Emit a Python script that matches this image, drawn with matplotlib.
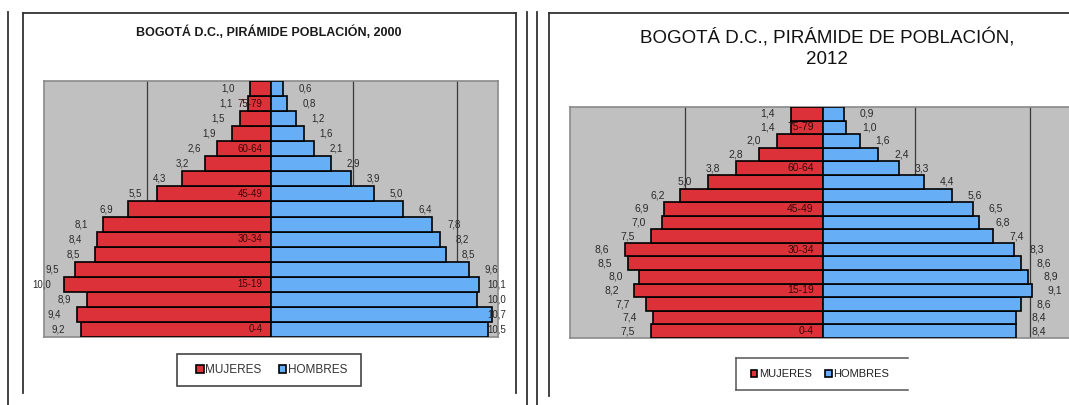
import matplotlib
matplotlib.use("Agg")
import matplotlib.pyplot as plt
from matplotlib.lines import Line2D
from matplotlib.patches import Patch, Rectangle

plt.rcParams["font.family"] = ["Liberation Sans", "DejaVu Sans"]

W, H = 1069, 405

# age groups from bottom (0-4) to top (80+)
ages = ["0-4", "5-9", "10-14", "15-19", "20-24", "25-29", "30-34", "35-39",
        "40-44", "45-49", "50-54", "55-59", "60-64", "65-69", "70-74",
        "75-79", "80+"]
shown_ages = ["0-4", "15-19", "30-34", "45-49", "60-64", "75-79"]

mujeres_2000 = [9.2, 9.4, 8.9, 10.0, 9.5, 8.5, 8.4, 8.1, 6.9, 5.5, 4.3, 3.2,
                2.6, 1.9, 1.5, 1.1, 1.0]
hombres_2000 = [10.5, 10.7, 10.0, 10.1, 9.6, 8.5, 8.2, 7.8, 6.4, 5.0, 3.9,
                2.9, 2.1, 1.6, 1.2, 0.8, 0.6]

mujeres_2012 = [7.5, 7.4, 7.7, 8.2, 8.0, 8.5, 8.6, 7.5, 7.0, 6.9, 6.2, 5.0,
                3.8, 2.8, 2.0, 1.4, 1.4]
hombres_2012 = [8.4, 8.4, 8.6, 9.1, 8.9, 8.6, 8.3, 7.4, 6.8, 6.5, 5.6, 4.4,
                3.3, 2.4, 1.6, 1.0, 0.9]

RED = "#DC3139"
BLUE = "#66AEF5"
GRAY = "#C0C0C0"


def fx(px):
    return px / W


def fy(py):
    return 1 - py / H


def fmt(v):
    return f"{v:.1f}".replace(".", ",")


def pyramid(ax, muj, hom, fs, off, cap):
    y = range(len(ages))
    ax.set_facecolor(GRAY)
    ax.barh(y, [-v for v in muj], height=1.0, color=RED, edgecolor="black",
            linewidth=1.2, zorder=3)
    ax.barh(y, hom, height=1.0, color=BLUE, edgecolor="black",
            linewidth=1.2, zorder=3)
    ax.set_xlim(-11, 11)
    ax.set_ylim(-0.5, len(ages) - 0.5)
    ax.set_xticks([-6, -1, 4, 9])
    ax.set_yticks([])
    ax.tick_params(axis="x", length=0, labelbottom=False)
    ax.grid(axis="x", color="#3a3a3a", linewidth=0.9, zorder=1)
    for s in ax.spines.values():
        s.set_color("#8a8a8a")
        s.set_linewidth(1.2)
    for i, (m, h) in enumerate(zip(muj, hom)):
        ax.text(-(m + off), i, fmt(m), ha="center", va="center",
                fontsize=fs, color="#2a2a2a", zorder=4)
        ax.text(min(h + off, cap), i, fmt(h), ha="center", va="center",
                fontsize=fs, color="#2a2a2a", zorder=4)
        if ages[i] in shown_ages:
            ax.text(-0.4, i, ages[i], ha="right", va="center", fontsize=fs,
                    color="#3a0808", zorder=4)


fig = plt.figure(figsize=(W / 100, H / 100), dpi=100)

ax1 = fig.add_axes([fx(43.6), fy(337), fx(498) - fx(43.6), (337 - 81) / H])
pyramid(ax1, mujeres_2000, hombres_2000, 7, 1.08, 10.93)

ax2 = fig.add_axes([fx(570), fy(338), fx(1076) - fx(570), (338 - 107) / H])
pyramid(ax2, mujeres_2012, hombres_2012, 7.5, 1.0, 10.3)

fig.text(fx(269), fy(32), "BOGOTÁ D.C., PIRÁMIDE POBLACIÓN, 2000",
         ha="center", va="center", fontsize=9, fontweight="bold",
         color="#1a1a1a")
fig.text(fx(827), fy(48), "BOGOTÁ D.C., PIRÁMIDE DE POBLACIÓN,\n2012",
         ha="center", va="center", fontsize=13.5, linespacing=1.25,
         color="#111111")

# panel frames
frame = dict(color="#333333", linewidth=1.3)
segments = [
    ((8, 12), (8, 405)),
    ((23, 13), (23, 393)),
    ((23, 13), (516, 13)),
    ((516, 13), (516, 393)),
    ((527, 12), (527, 405)),
    ((537, 12), (537, 405)),
    ((549, 12.5), (549, 396)),
    ((549, 12.5), (1069, 12.5)),
]
for (x0, y0), (x1, y1) in segments:
    fig.add_artist(Line2D([fx(x0), fx(x1)], [fy(y0), fy(y1)],
                          transform=fig.transFigure, **frame))

# legends
handles = [Patch(facecolor=RED, edgecolor="black", linewidth=1.2),
           Patch(facecolor=BLUE, edgecolor="black", linewidth=1.2)]
labels = ["MUJERES", "HOMBRES"]

fig.add_artist(Rectangle((fx(177), fy(386)), fx(361) - fx(177),
                         (386 - 354) / H, transform=fig.transFigure,
                         fill=False, edgecolor="#444444", linewidth=1.2))
fig.legend(handles, labels, loc="center", ncol=2, frameon=False,
           bbox_to_anchor=(fx(272), fy(370)), fontsize=8.5,
           handlelength=0.6, handleheight=0.6, handletextpad=0.15,
           columnspacing=1.5, labelcolor="#333333")

for (x0, y0), (x1, y1) in [((736, 358), (908, 358)), ((736, 358), (736, 390)),
                           ((736, 390), (908, 390))]:
    fig.add_artist(Line2D([fx(x0), fx(x1)], [fy(y0), fy(y1)],
                          transform=fig.transFigure, color="#555555",
                          linewidth=1.1))
fig.legend(handles, labels, loc="center", ncol=2, frameon=False,
           bbox_to_anchor=(fx(820), fy(374)), fontsize=8,
           handlelength=0.6, handleheight=0.6, handletextpad=0.15,
           columnspacing=1.2, labelcolor="#222222")

fig.savefig("out.png", dpi=100)
